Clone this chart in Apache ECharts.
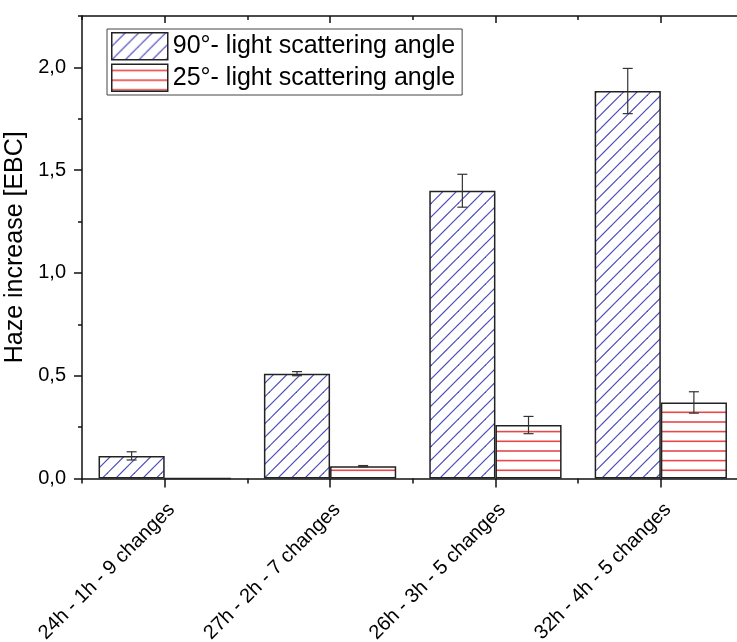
<!DOCTYPE html>
<html><head><meta charset="utf-8">
<script src="https://cdn.jsdelivr.net/npm/echarts@6/dist/echarts.min.js"></script>
<style>html,body{margin:0;padding:0;background:#fff}#c{width:737px;height:642px}</style>
</head><body><div id="c"></div>
<script>
const categories = ['24h - 1h - 9 changes', '27h - 2h - 7 changes', '26h - 3h - 5 changes', '32h - 4h - 5 changes'];
const seriesNames = ['90°- light scattering angle', '25°- light scattering angle'];
const blueValues = [0.11, 0.51, 1.40, 1.885];
const blueErrors = [0.02, 0.01, 0.08, 0.11];
const redValues = [0, 0.06, 0.26, 0.37];
const redErrors = [0, 0.003, 0.042, 0.052];
const yMajorTicks = [0, 0.5, 1.0, 1.5, 2.0];
const yMinorTicks = [0.25, 0.75, 1.25, 1.75, 2.25];
const yMax = 2.25;

const FONT = 'Arial, "Liberation Sans", Helvetica, sans-serif';

function makeDiag() {
  const c = document.createElement('canvas'); c.width = 27; c.height = 27;
  const g = c.getContext('2d');
  g.fillStyle = '#fff'; g.fillRect(0, 0, 27, 27);
  g.strokeStyle = '#4848b8'; g.lineWidth = 1.2;
  for (let k = -2; k <= 5; k++) {
    const cc = k * 13.5;
    g.beginPath(); g.moveTo(cc - 30, 30); g.lineTo(cc + 30, -30); g.stroke();
  }
  return c;
}
function makeHoriz() {
  const c = document.createElement('canvas'); c.width = 29; c.height = 29;
  const g = c.getContext('2d');
  g.fillStyle = '#fff'; g.fillRect(0, 0, 29, 29);
  g.strokeStyle = '#e8474a'; g.lineWidth = 1.6;
  [6.3, 16, 25.6].forEach(y => { g.beginPath(); g.moveTo(0, y); g.lineTo(29, y); g.stroke(); });
  return c;
}
const diagPattern = { image: makeDiag(), repeat: 'repeat' };
const horizPattern = { image: makeHoriz(), repeat: 'repeat' };

function errRender(params, api) {
  const i = api.value(0), v = api.value(1), e = api.value(2), side = api.value(3);
  if (!e) return;
  const band = api.size([1, 0])[0];
  const x = api.coord([i, v])[0] + side * band * 0.2;
  const top = api.coord([i, v + e])[1], bot = api.coord([i, v - e])[1];
  const hw = 5;
  const st = { stroke: '#333', lineWidth: 1.2 };
  return { type: 'group', children: [
    { type: 'line', shape: { x1: x, y1: top, x2: x, y2: bot }, style: st },
    { type: 'line', shape: { x1: x - hw, y1: top, x2: x + hw, y2: top }, style: st },
    { type: 'line', shape: { x1: x - hw, y1: bot, x2: x + hw, y2: bot }, style: st }
  ] };
}

const lineStyle = { color: '#111', width: 1.5 };
const chart = echarts.init(document.getElementById('c'));
chart.setOption({
  animation: false,
  backgroundColor: '#fff',
  grid: { left: 82, right: -6.5, top: 16, bottom: 163.5, containLabel: false, outerBoundsMode: 'none' },
  legend: {
    orient: 'vertical', left: 107, top: 29, data: seriesNames, icon: 'rect',
    itemWidth: 56, itemHeight: 27, itemGap: 3, padding: [3, 7, 3, 4],
    borderColor: '#444', borderWidth: 1, selectedMode: false,
    textStyle: { fontSize: 25, fontFamily: FONT, color: '#000' },
    itemStyle: { borderColor: '#222', borderWidth: 1.5 }
  },
  xAxis: [
    { type: 'category', data: categories, position: 'bottom', gridIndex: 0,
      axisLine: { show: true, lineStyle: lineStyle },
      axisTick: { show: true, alignWithLabel: true, length: 9, lineStyle: lineStyle },
      axisLabel: { show: true, rotate: 45, interval: 0, margin: 21, verticalAlign: 'top',
        fontSize: 20, fontFamily: FONT, color: '#000' },
      splitLine: { show: false } },
    { type: 'category', data: categories, position: 'bottom', gridIndex: 0,
      axisLine: { show: false },
      axisTick: { show: true, alignWithLabel: false, length: 5, lineStyle: lineStyle },
      axisLabel: { show: false }, splitLine: { show: false } },
    { type: 'category', data: categories, position: 'top', gridIndex: 0,
      axisLine: { show: true, lineStyle: lineStyle },
      axisTick: { show: true, inside: true, alignWithLabel: true, length: 7, lineStyle: lineStyle },
      axisLabel: { show: false }, splitLine: { show: false } },
    { type: 'category', data: categories, position: 'top', gridIndex: 0,
      axisLine: { show: false },
      axisTick: { show: true, inside: true, alignWithLabel: false, length: 4, lineStyle: lineStyle },
      axisLabel: { show: false }, splitLine: { show: false } }
  ],
  yAxis: [
    { type: 'value', min: 0, max: yMax, position: 'left',
      name: 'Haze increase [EBC]', nameLocation: 'middle', nameGap: 48, nameRotate: 90,
      nameTextStyle: { fontSize: 25, fontFamily: FONT, color: '#000' },
      axisLine: { show: true, lineStyle: lineStyle },
      axisTick: { show: true, customValues: yMajorTicks, length: 8, lineStyle: lineStyle },
      axisLabel: { show: true, customValues: yMajorTicks, margin: 16, fontSize: 20, fontFamily: FONT, color: '#000',
        formatter: v => Number(v).toFixed(1).replace('.', ',') },
      splitLine: { show: false } },
    { type: 'value', min: 0, max: yMax, position: 'left',
      axisLine: { show: false },
      axisTick: { show: true, customValues: yMinorTicks, length: 4, lineStyle: lineStyle },
      axisLabel: { show: false }, splitLine: { show: false } }
  ],
  series: [
    { name: seriesNames[0], type: 'bar', xAxisIndex: 0, yAxisIndex: 0, data: blueValues,
      barWidth: '40%', barGap: '0%',
      itemStyle: { color: diagPattern, borderColor: '#222', borderWidth: 1.5 } },
    { name: seriesNames[1], type: 'bar', xAxisIndex: 0, yAxisIndex: 0, data: redValues,
      barWidth: '40%', barGap: '0%',
      itemStyle: { color: horizPattern, borderColor: '#222', borderWidth: 1.5 } },
    { type: 'custom', xAxisIndex: 0, yAxisIndex: 0, z: 10, silent: true,
      data: blueValues.map((v, i) => [i, v, blueErrors[i], -1]), renderItem: errRender },
    { type: 'custom', xAxisIndex: 0, yAxisIndex: 0, z: 10, silent: true,
      data: redValues.map((v, i) => [i, v, redErrors[i], 1]), renderItem: errRender }
  ]
});
</script>
</body></html>
